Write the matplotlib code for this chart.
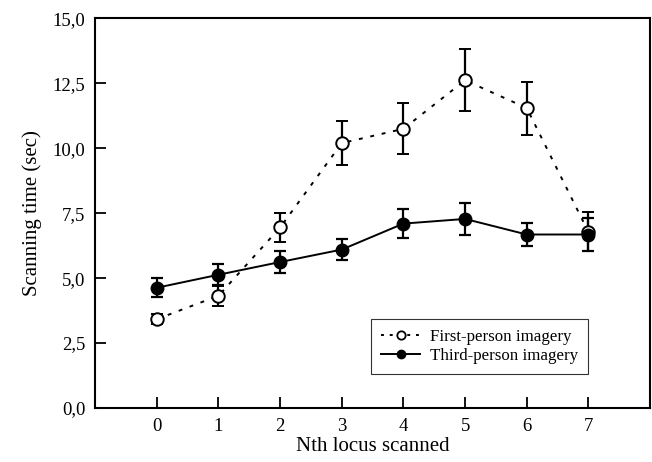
import numpy as np
import matplotlib
matplotlib.use("Agg")
import matplotlib.pyplot as plt
from matplotlib.lines import Line2D

plt.rcParams['font.family'] = ['Liberation Serif', 'DejaVu Serif']

# Nth locus scanned
loci = [0, 1, 2, 3, 4, 5, 6, 7]

# first-person imagery (open circles)
first_mean = [3.42, 4.32, 6.95, 10.2, 10.75, 12.62, 11.55, 6.78]
first_err = [0.18, 0.38, 0.55, 0.86, 0.98, 1.2, 1.02, 0.75]

# third-person imagery (filled circles)
third_mean = [4.63, 5.13, 5.62, 6.1, 7.1, 7.28, 6.68, 6.68]
third_err = [0.37, 0.4, 0.43, 0.42, 0.55, 0.62, 0.46, 0.62]

yticks = [0, 2.5, 5, 7.5, 10, 12.5, 15]
ytick_labels = ['0,0', '2,5', '5,0', '7,5', '10,0', '12,5', '15,0']

fig, ax = plt.subplots(figsize=(6.52, 4.62), dpi=100)
fig.subplots_adjust(left=0.146, right=0.997, bottom=0.117, top=0.96)

ax.errorbar(loci, first_mean, yerr=first_err, color='black', linestyle=(0, (2, 4)),
            lw=1.4, marker='o', ms=9, mfc='white', mec='black', mew=1.4,
            ecolor='black', elinewidth=1.6, capsize=4.5, capthick=1.6)
ax.errorbar(loci, third_mean, yerr=third_err, color='black', linestyle='-',
            lw=1.4, marker='o', ms=9, mfc='black', mec='black',
            ecolor='black', elinewidth=1.6, capsize=4.5, capthick=1.6)

ax.set_xlim(-1, 8)
ax.set_ylim(0, 15)
ax.set_xticks(loci)
ax.set_yticks(yticks)
ax.set_yticklabels(ytick_labels)
ax.tick_params(direction='in', length=8, width=1.3, labelsize=13.5, pad=7)
for s in ax.spines.values():
    s.set_linewidth(1.5)

ax.set_xlabel('Nth locus scanned', fontsize=15, labelpad=2)
ax.set_ylabel('Scanning time (sec)', fontsize=15, labelpad=8)

handles = [
    Line2D([], [], color='black', linestyle=(0, (1.5, 3)), lw=1.4, marker='o', ms=6,
           mfc='white', mec='black', mew=1.3),
    Line2D([], [], color='black', linestyle='-', lw=1.4, marker='o', ms=6,
           mfc='black', mec='black'),
]
leg = ax.legend(handles, ['First-person imagery', 'Third-person imagery'],
                loc='lower right', bbox_to_anchor=(0.888, 0.087), borderaxespad=0,
                fontsize=12.2, frameon=True, fancybox=False, edgecolor='black',
                handlelength=2.3, borderpad=0.6, labelspacing=0.15,
                handletextpad=0.55)
leg.get_frame().set_linewidth(0.8)

fig.savefig('out.png', dpi=100)
